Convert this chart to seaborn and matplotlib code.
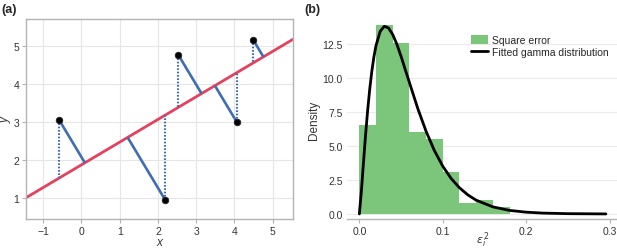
import numpy as np
import pandas as pd
import seaborn as sns
import matplotlib.pyplot as plt
from matplotlib.patches import Patch
from matplotlib.lines import Line2D

# (a) 점 5개와 적합 직선
px = [-0.58, 2.19, 2.53, 4.06, 4.49]
py = [3.05, 0.95, 4.77, 3.00, 5.16]
intercept = 1.875
slope = 0.597

# (b) 제곱오차 히스토그램 (bin 폭 0.02)
bin_edges = [0.0, 0.02, 0.04, 0.06, 0.08, 0.10, 0.12, 0.14, 0.16, 0.18]
bin_density = [6.5, 13.85, 12.55, 6.0, 5.5, 3.1, 0.78, 1.0, 0.52]

# (b) 감마분포 곡선
curve_x = [0.0, 0.0025, 0.005, 0.0075, 0.01, 0.0125, 0.015, 0.0175, 0.02, 0.025,
           0.03, 0.035, 0.04, 0.045, 0.05, 0.06, 0.07, 0.08, 0.09, 0.10,
           0.11, 0.12, 0.13, 0.14, 0.16, 0.18, 0.20, 0.22, 0.25, 0.2955]
curve_y = [0.0, 1.72, 3.82, 5.83, 7.63, 9.19, 10.49, 11.54, 12.36, 13.40,
           13.77, 13.64, 13.16, 12.44, 11.56, 9.64, 7.74, 6.06, 4.64, 3.50,
           2.60, 1.92, 1.40, 1.01, 0.52, 0.26, 0.13, 0.064, 0.021, 0.003]

RED = '#e6405f'
BLUE = '#3f6db4'
GREEN = '#7bc67b'
TXT = '#333333'

sns.set_style('white')
plt.rcParams['font.family'] = ['Liberation Sans', 'DejaVu Sans']
plt.rcParams['mathtext.fontset'] = 'dejavusans'

fig = plt.figure(figsize=(6.17, 2.51), dpi=100)
ax1 = fig.add_axes([0.0421, 0.1235, 0.4328, 0.7968])
ax2 = fig.add_axes([0.5624, 0.1235, 0.4392, 0.7968])

# ---- (a)
ax1.axline((0, intercept), slope=slope, color=RED, lw=2.0, zorder=2)
d = np.array([1.0, slope]) / np.hypot(1.0, slope)
for x0, y0 in zip(px, py):
    t = (x0 - 0) * d[0] + (y0 - intercept) * d[1]
    fx, fy = t * d[0], intercept + t * d[1]
    ax1.plot([x0, fx], [y0, fy], color=BLUE, lw=1.9, zorder=3, solid_capstyle='butt')
    ax1.plot([x0, x0], [y0, intercept + slope * x0], color=BLUE, lw=1.5,
             ls=(0, (0.8, 0.8)), zorder=3)
sns.scatterplot(x=px, y=py, ax=ax1, color='black', s=22, edgecolor='#222222',
                linewidth=0.6, zorder=4)
ax1.set_xlim(-1.45, 5.53)
ax1.set_ylim(0.45, 5.71)
ax1.set_xticks([-1, 0, 1, 2, 3, 4, 5])
ax1.set_yticks([1, 2, 3, 4, 5])
ax1.set_xticklabels(['\u22121', '0', '1', '2', '3', '4', '5'])
ax1.grid(True, color='#e6e6e6', lw=0.8)
ax1.set_axisbelow(True)
for s in ax1.spines.values():
    s.set_color('#b3b3b3')
    s.set_linewidth(1.0)
ax1.tick_params(length=3, width=0.8, color='#b3b3b3', labelsize=7.5,
                labelcolor=TXT, pad=2, bottom=True, left=True)
ax1.set_xlabel('x', fontsize=8.5, style='italic', color=TXT, labelpad=0)
ax1.set_ylabel('y', fontsize=8.5, style='italic', color=TXT, labelpad=1)

# ---- (b)
mids = [(a + b) / 2 for a, b in zip(bin_edges[:-1], bin_edges[1:])]
hist_df = pd.DataFrame({'mid': mids, 'density': bin_density})
sns.histplot(data=hist_df, x='mid', weights='density', bins=bin_edges,
             stat='count', color=GREEN, alpha=1.0, linewidth=0, ax=ax2, zorder=2)
curve_df = pd.DataFrame({'x': curve_x, 'y': curve_y})
sns.lineplot(data=curve_df, x='x', y='y', color='black', lw=2.0, ax=ax2, zorder=3)
ax2.set_xlim(-0.0148, 0.310)
ax2.set_ylim(-0.37, 14.3)
ax2.set_xticks([0.0, 0.1, 0.2, 0.3])
ax2.set_xticklabels(['0.0', '0.1', '0.2', '0.3'])
ax2.set_yticks([0.0, 2.5, 5.0, 7.5, 10.0, 12.5])
ax2.set_yticklabels(['0.0', '2.5', '5.0', '7.5', '10.0', '12.5'])
ax2.yaxis.grid(True, color='#ebebeb', lw=0.8)
ax2.set_axisbelow(True)
for k in ['top', 'right', 'left']:
    ax2.spines[k].set_visible(False)
ax2.spines['bottom'].set_color('#b3b3b3')
ax2.spines['bottom'].set_linewidth(1.0)
ax2.tick_params(axis='x', length=3, width=0.8, color='#b3b3b3', labelsize=7.5,
                labelcolor=TXT, pad=2, bottom=True)
ax2.tick_params(axis='y', length=0, labelsize=7.5, labelcolor=TXT, pad=3)
ax2.set_xlabel('$\\varepsilon_i^{\\,2}$', fontsize=8, color=TXT, labelpad=-5)
ax2.set_ylabel('Density', fontsize=8.5, color=TXT, labelpad=2)

handles = [Patch(facecolor=GREEN, edgecolor='none'),
           Line2D([], [], color='black', lw=2.0)]
ax2.legend(handles, ['Square error', 'Fitted gamma distribution'],
           loc='upper right', bbox_to_anchor=(0.98, 0.94), frameon=False,
           fontsize=7.5, handlelength=1.6, handleheight=0.9,
           handletextpad=0.4, labelspacing=0.15, borderaxespad=0)

fig.text(0.002, 0.985, '(a)', fontsize=9, fontweight='bold', va='top', ha='left')
fig.text(0.494, 0.985, '(b)', fontsize=9, fontweight='bold', va='top', ha='left')

fig.savefig('out.png', dpi=100)
